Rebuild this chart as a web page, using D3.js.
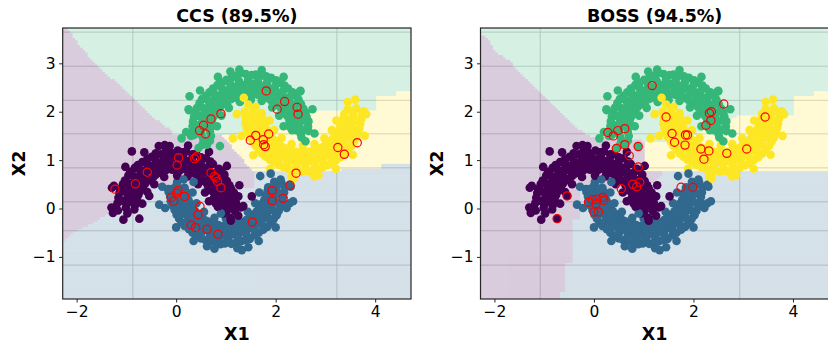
<!DOCTYPE html>
<html><head><meta charset="utf-8">
<script src="https://cdn.jsdelivr.net/npm/d3@7"></script>
<style>body{margin:0;background:#fff}svg{display:block}text{font-family:"DejaVu Sans",sans-serif}</style>
</head><body><svg id="c" width="828" height="343"></svg>
<script>
// ---------------- data ----------------
const purple=[[1.00,-0.09],[0.84,0.03],[1.02,-0.04],[1.17,0.05],[0.80,0.10],[0.97,0.06],[1.20,0.13],[0.83,0.12],[1.01,0.20],[1.15,0.18],[0.76,0.22],[0.95,0.27],[1.16,0.33],[0.78,0.30],[0.96,0.33],[1.10,0.42],[0.72,0.36],[0.92,0.41],[1.07,0.48],[0.70,0.42],[0.87,0.52],[1.02,0.57],[0.64,0.47],[0.83,0.56],[0.97,0.70],[0.62,0.52],[0.79,0.63],[0.91,0.78],[0.58,0.56],[0.70,0.73],[0.86,0.82],[0.52,0.61],[0.66,0.76],[0.74,0.92],[0.45,0.68],[0.57,0.84],[0.69,0.97],[0.40,0.70],[0.51,0.86],[0.60,1.04],[0.33,0.74],[0.42,0.92],[0.50,1.06],[0.28,0.78],[0.35,0.93],[0.40,1.13],[0.21,0.80],[0.25,0.98],[0.33,1.12],[0.13,0.82],[0.18,0.99],[0.20,1.18],[0.07,0.78],[0.08,1.02],[0.12,1.16],[0.00,0.83],[-0.02,0.98],[0.03,1.20],[-0.08,0.80],[-0.09,1.03],[-0.10,1.15],[-0.14,0.84],[-0.17,0.97],[-0.21,1.19],[-0.21,0.79],[-0.26,0.98],[-0.30,1.12],[-0.28,0.77],[-0.34,0.94],[-0.41,1.14],[-0.34,0.74],[-0.43,0.90],[-0.49,1.07],[-0.41,0.70],[-0.50,0.88],[-0.58,1.02],[-0.46,0.65],[-0.58,0.83],[-0.68,0.96],[-0.52,0.61],[-0.63,0.78],[-0.77,0.90],[-0.57,0.58],[-0.72,0.71],[-0.83,0.84],[-0.62,0.52],[-0.78,0.63],[-0.92,0.76],[-0.66,0.47],[-0.83,0.58],[-0.96,0.68],[-0.71,0.41],[-0.86,0.52],[-1.03,0.58],[-0.74,0.34],[-0.92,0.42],[-1.07,0.50],[-0.76,0.28],[-0.95,0.34],[-1.12,0.40],[-0.79,0.21],[-0.97,0.25],[-1.14,0.32],[-0.82,0.14],[-0.99,0.17],[-1.16,0.22],[-0.83,0.06],[-1.00,0.09],[-1.18,0.11],[-0.84,-0.02],[-1.01,0.01],[-1.17,-0.04],[-0.98,-0.10],
[1.30,0.02],[0.66,0.15],[1.27,0.48],[0.58,0.33],[1.02,0.88],[0.44,0.50],[0.66,1.17],[0.23,0.66],[0.24,1.30],[0.02,0.68],[-0.23,1.31],[-0.24,0.65],[-0.64,1.16],[-0.44,0.50],[-1.02,0.86],[-0.58,0.34],[-1.25,0.47],[-0.68,0.10],[-1.30,0.02],
[0.91,0.06],[1.09,0.07],[0.89,0.21],[1.06,0.26],[0.84,0.37],[1.01,0.44],[0.77,0.50],[0.92,0.60],[0.67,0.63],[0.81,0.75],[0.55,0.74],[0.66,0.88],[0.42,0.83],[0.50,0.98],[0.27,0.89],[0.33,1.06],[0.12,0.92],[0.14,1.10],[-0.04,0.93],[-0.05,1.11],[-0.20,0.90],[-0.24,1.08],[-0.35,0.86],[-0.42,1.03],[-0.49,0.79],[-0.59,0.94],[-0.62,0.69],[-0.74,0.82],[-0.72,0.57],[-0.87,0.68],[-0.81,0.44],[-0.97,0.52],[-0.87,0.29],[-1.04,0.35],[-0.90,0.14],[-1.08,0.16],
[-1.06,-0.23],[-1.27,-0.09],[-0.89,1.18],[-0.74,-0.21],[-0.54,0.26],[1.09,-0.19],[1.52,0.25],[-0.35,1.29],[-0.13,1.29],[-1.29,0.43],[1.25,0.25],[1.18,-0.05],[0.95,-0.10],[1.10,-0.25],[1.25,-0.15],[0.85,0.05],[1.35,0.05]];

const blue=[[0.02,0.55],[0.17,0.43],[0.00,0.47],[-0.16,0.40],[0.19,0.36],[0.03,0.37],[-0.15,0.34],[0.20,0.30],[0.01,0.28],[-0.12,0.25],[0.22,0.24],[0.06,0.20],[-0.11,0.15],[0.25,0.17],[0.07,0.12],[-0.07,0.06],[0.27,0.12],[0.12,0.04],[-0.03,-0.03],[0.31,0.05],[0.14,-0.04],[0.01,-0.13],[0.34,0.00],[0.19,-0.11],[0.06,-0.21],[0.38,-0.06],[0.24,-0.17],[0.11,-0.29],[0.43,-0.11],[0.30,-0.25],[0.17,-0.36],[0.47,-0.16],[0.36,-0.31],[0.26,-0.43],[0.53,-0.20],[0.43,-0.36],[0.33,-0.50],[0.59,-0.25],[0.50,-0.42],[0.41,-0.56],[0.64,-0.27],[0.57,-0.44],[0.50,-0.62],[0.71,-0.30],[0.66,-0.47],[0.60,-0.66],[0.78,-0.31],[0.74,-0.52],[0.69,-0.68],[0.85,-0.34],[0.82,-0.55],[0.79,-0.70],[0.93,-0.36],[0.91,-0.53],[0.89,-0.74],[1.00,-0.37],[1.01,-0.57],[0.98,-0.72],[1.08,-0.35],[1.09,-0.54],[1.11,-0.73],[1.15,-0.36],[1.17,-0.53],[1.20,-0.71],[1.22,-0.32],[1.26,-0.51],[1.30,-0.68],[1.28,-0.30],[1.34,-0.48],[1.39,-0.65],[1.36,-0.28],[1.42,-0.45],[1.48,-0.63],[1.41,-0.24],[1.50,-0.40],[1.58,-0.55],[1.46,-0.21],[1.58,-0.36],[1.66,-0.50],[1.52,-0.16],[1.64,-0.30],[1.75,-0.44],[1.57,-0.12],[1.70,-0.26],[1.83,-0.38],[1.62,-0.06],[1.77,-0.19],[1.90,-0.30],[1.67,-0.01],[1.81,-0.12],[1.96,-0.22],[1.70,0.05],[1.86,-0.05],[2.02,-0.14],[1.74,0.11],[1.91,0.03],[2.06,-0.05],[1.77,0.17],[1.93,0.11],[2.10,0.04],[1.80,0.23],[1.96,0.19],[2.13,0.14],[1.82,0.30],[1.98,0.27],[2.15,0.24],[1.84,0.37],[2.00,0.36],[2.17,0.33],[1.85,0.44],[2.01,0.45],[2.18,0.43],[1.97,0.55],[2.12,0.52],
[-0.28,0.45],[0.33,0.33],[-0.22,0.01],[0.41,0.11],[0.00,-0.39],[0.56,-0.07],[0.35,-0.67],[0.77,-0.19],[0.77,-0.83],[1.00,-0.21],[1.23,-0.82],[1.23,-0.19],[1.66,-0.67],[1.44,-0.07],[2.00,-0.39],[1.59,0.11],[2.22,0.01],[1.67,0.33],[2.30,0.45],
[0.09,0.41],[-0.09,0.40],[0.11,0.25],[-0.06,0.21],[0.16,0.10],[-0.01,0.03],[0.23,-0.04],[0.08,-0.14],[0.33,-0.17],[0.20,-0.29],[0.45,-0.27],[0.34,-0.41],[0.58,-0.36],[0.50,-0.52],[0.73,-0.42],[0.67,-0.59],[0.88,-0.45],[0.86,-0.63],[1.04,-0.46],[1.05,-0.64],[1.20,-0.44],[1.24,-0.61],[1.35,-0.39],[1.42,-0.56],[1.49,-0.32],[1.59,-0.47],[1.62,-0.22],[1.74,-0.35],[1.72,-0.10],[1.87,-0.21],[1.81,0.03],[1.97,-0.05],[1.87,0.18],[2.04,0.12],[1.90,0.33],[2.08,0.31],
[1.32,-0.86],[0.62,-0.78],[-0.34,0.08],[2.28,0.49],[2.28,0.11],[2.35,0.15],[1.69,0.67],[1.90,0.72],[2.10,0.60],[0.35,0.55],[0.15,0.60],[0.90,-0.10],[1.45,-0.80],[0.10,-0.05]];

const green=[[2.52,1.47],[2.33,1.62],[2.50,1.55],[2.66,1.60],[2.30,1.67],[2.48,1.66],[2.65,1.70],[2.31,1.72],[2.47,1.76],[2.66,1.80],[2.28,1.80],[2.45,1.85],[2.62,1.90],[2.27,1.86],[2.43,1.93],[2.60,1.98],[2.23,1.92],[2.39,2.01],[2.56,2.06],[2.20,1.98],[2.36,2.08],[2.51,2.16],[2.14,2.05],[2.31,2.16],[2.46,2.25],[2.10,2.09],[2.26,2.22],[2.40,2.33],[2.06,2.13],[2.21,2.28],[2.34,2.40],[2.00,2.18],[2.14,2.33],[2.25,2.48],[1.94,2.22],[2.06,2.38],[2.18,2.54],[1.89,2.25],[2.00,2.43],[2.10,2.60],[1.82,2.29],[1.92,2.47],[2.01,2.65],[1.77,2.31],[1.84,2.50],[1.91,2.70],[1.70,2.33],[1.76,2.53],[1.81,2.73],[1.64,2.35],[1.67,2.56],[1.70,2.74],[1.56,2.36],[1.59,2.57],[1.60,2.77],[1.50,2.37],[1.49,2.58],[1.52,2.76],[1.43,2.38],[1.41,2.57],[1.40,2.78],[1.36,2.36],[1.33,2.55],[1.30,2.80],[1.29,2.33],[1.24,2.54],[1.20,2.74],[1.23,2.32],[1.16,2.51],[1.11,2.70],[1.17,2.29],[1.08,2.47],[1.01,2.66],[1.10,2.26],[1.00,2.44],[0.92,2.60],[1.04,2.23],[0.93,2.38],[0.83,2.55],[0.99,2.19],[0.86,2.33],[0.74,2.48],[0.93,2.15],[0.79,2.28],[0.67,2.40],[0.88,2.10],[0.73,2.22],[0.60,2.33],[0.84,2.05],[0.68,2.16],[0.52,2.26],[0.80,1.99],[0.64,2.08],[0.47,2.18],[0.77,1.93],[0.59,2.01],[0.42,2.08],[0.73,1.86],[0.56,1.93],[0.39,1.99],[0.71,1.80],[0.53,1.84],[0.36,1.90],[0.70,1.73],[0.52,1.76],[0.34,1.80],[0.68,1.66],[0.51,1.67],[0.33,1.70],[0.68,1.58],[0.50,1.59],[0.34,1.60],[0.70,1.50],[0.52,1.50],[0.36,1.52],[0.55,1.42],[0.68,1.40],
[2.78,1.55],[2.16,1.70],[2.74,2.05],[2.07,1.92],[2.50,2.43],[1.93,2.09],[2.16,2.72],[1.72,2.22],[1.72,2.86],[1.50,2.24],[1.27,2.87],[1.28,2.20],[0.84,2.72],[1.06,2.08],[0.48,2.44],[0.91,1.92],[0.26,2.03],[0.82,1.70],[0.20,1.58],
[2.41,1.62],[2.59,1.63],[2.39,1.78],[2.56,1.82],[2.34,1.93],[2.51,2.00],[2.27,2.07],[2.42,2.16],[2.17,2.20],[2.30,2.32],[2.05,2.30],[2.16,2.45],[1.92,2.39],[2.00,2.55],[1.77,2.45],[1.83,2.62],[1.62,2.48],[1.64,2.66],[1.46,2.49],[1.45,2.67],[1.30,2.47],[1.26,2.64],[1.15,2.42],[1.08,2.59],[1.01,2.35],[0.91,2.50],[0.88,2.25],[0.76,2.38],[0.78,2.13],[0.64,2.24],[0.69,2.00],[0.53,2.08],[0.63,1.85],[0.46,1.91],[0.60,1.70],[0.42,1.72],
[0.27,2.32],[0.25,2.05],[0.11,1.45],[0.53,1.32],[0.88,1.29],[2.60,1.39],[2.49,2.42],[1.09,2.83],[0.45,1.25],[0.62,1.32],[0.30,1.50]];

const yellow=[[1.55,2.05],[1.72,1.97],[1.55,1.93],[1.38,2.00],[1.73,1.88],[1.56,1.85],[1.40,1.88],[1.74,1.80],[1.57,1.77],[1.39,1.76],[1.77,1.74],[1.59,1.69],[1.42,1.65],[1.79,1.67],[1.62,1.61],[1.45,1.56],[1.82,1.61],[1.66,1.53],[1.49,1.47],[1.86,1.55],[1.70,1.46],[1.55,1.38],[1.89,1.49],[1.74,1.39],[1.60,1.29],[1.94,1.44],[1.80,1.32],[1.66,1.22],[1.98,1.40],[1.85,1.25],[1.72,1.14],[2.03,1.35],[1.92,1.20],[1.80,1.07],[2.08,1.31],[1.99,1.14],[1.88,1.01],[2.14,1.27],[2.05,1.10],[1.97,0.96],[2.20,1.24],[2.13,1.06],[2.06,0.90],[2.27,1.21],[2.21,1.03],[2.15,0.86],[2.33,1.19],[2.29,1.00],[2.25,0.82],[2.41,1.17],[2.38,0.97],[2.34,0.79],[2.48,1.16],[2.46,0.96],[2.44,0.78],[2.55,1.15],[2.56,0.95],[2.53,0.76],[2.62,1.15],[2.64,0.97],[2.66,0.77],[2.69,1.17],[2.72,0.98],[2.75,0.79],[2.76,1.19],[2.80,0.99],[2.85,0.82],[2.82,1.21],[2.88,1.02],[2.94,0.85],[2.89,1.24],[2.96,1.05],[3.03,0.89],[2.95,1.27],[3.04,1.10],[3.12,0.94],[3.01,1.32],[3.12,1.15],[3.21,1.00],[3.06,1.36],[3.18,1.20],[3.30,1.06],[3.12,1.41],[3.25,1.26],[3.38,1.13],[3.16,1.46],[3.31,1.33],[3.45,1.21],[3.21,1.51],[3.37,1.40],[3.52,1.29],[3.24,1.57],[3.41,1.47],[3.57,1.38],[3.28,1.63],[3.45,1.54],[3.62,1.47],[3.31,1.69],[3.49,1.62],[3.66,1.57],[3.33,1.75],[3.51,1.70],[3.68,1.66],[3.36,1.82],[3.53,1.78],[3.70,1.75],[3.37,1.88],[3.55,1.87],[3.72,1.85],[3.38,1.95],[3.56,1.96],[3.73,1.94],[3.45,2.05],[3.62,2.07],
[1.22,1.95],[1.88,1.82],[1.31,1.50],[1.97,1.62],[1.55,1.10],[2.12,1.46],[1.89,0.82],[2.32,1.33],[2.32,0.66],[2.55,1.30],[2.78,0.66],[2.78,1.33],[3.21,0.82],[2.98,1.45],[3.55,1.11],[3.13,1.62],[3.79,1.50],[3.22,1.82],[3.82,1.95],
[1.64,1.91],[1.46,1.90],[1.66,1.75],[1.49,1.71],[1.71,1.60],[1.54,1.53],[1.78,1.46],[1.63,1.36],[1.88,1.33],[1.75,1.21],[2.00,1.23],[1.89,1.09],[2.13,1.14],[2.05,0.98],[2.28,1.08],[2.22,0.91],[2.43,1.05],[2.41,0.87],[2.59,1.04],[2.60,0.86],[2.75,1.06],[2.79,0.89],[2.90,1.11],[2.97,0.94],[3.04,1.18],[3.14,1.03],[3.17,1.28],[3.29,1.15],[3.27,1.40],[3.41,1.29],[3.36,1.53],[3.52,1.45],[3.42,1.68],[3.59,1.62],[3.45,1.83],[3.63,1.81],
[3.77,2.01],[3.60,2.25],[3.45,2.20],[1.36,2.29],[1.14,1.45],[2.86,0.69],[2.37,0.62],[1.45,2.15],[1.60,2.10]];

// decision regions (polygon vertices, data units)
const ccsPurple=[[-3,4.5],[-2.2,4.5],[-2.2,3.75],[-1.87,3.28],[-1.55,2.93],[-0.88,2.31],[-0.58,1.98],[-0.12,1.63],[-0.05,1.52],[0.92,1.52],[1.55,0.76],[1.55,0.45],[-0.39,0.45],[-0.99,0.12],[-1.47,-0.17],[-1.77,-0.34],[-2.07,-0.50],[-2.29,-0.68],[-3,-0.68]];
const ccsYellow=[[0.92,1.52],[1.95,1.58],[2.86,2.04],[4.03,2.04],[4.03,2.35],[4.44,2.35],[4.44,2.45],[5.5,2.45],[5.5,0.94],[4.1,0.94],[4.1,0.83],[3.3,0.83],[3.3,0.76],[1.55,0.76]];
const ccsGreen=[[-2.2,4.5],[-2.2,3.75],[-1.87,3.28],[-1.55,2.93],[-0.88,2.31],[-0.58,1.98],[-0.12,1.63],[-0.05,1.52],[0.92,1.52],[1.95,1.58],[2.86,2.04],[4.03,2.04],[4.03,2.35],[4.44,2.35],[4.44,2.45],[5.5,2.45],[5.5,4.5]];
const bossPurple=[[-3,3.56],[-2.17,3.56],[-1.97,3.25],[-1.69,3.05],[-1.35,2.67],[-1.08,2.39],[-0.85,2.15],[-0.62,1.94],[-0.35,1.67],[-0.08,1.50],[0.30,1.45],[1.03,1.40],[1.03,0.78],[1.38,0.78],[1.38,0.73],[1.19,0.55],[0.99,0.36],[-0.28,0.36],[-0.28,-0.20],[-0.45,-0.20],[-0.45,-1.10],[-0.58,-1.10],[-0.58,-1.70],[-0.70,-1.70],[-0.70,-3],[-3,-3]];
const bossYellow=[[1.03,1.40],[1.70,1.40],[2.95,1.93],[4.03,1.93],[4.03,2.31],[4.40,2.31],[4.40,2.44],[5.5,2.44],[5.5,0.76],[1.03,0.76]];
const bossGreen=[[-3,4.5],[-3,3.56],[-2.17,3.56],[-1.97,3.25],[-1.69,3.05],[-1.35,2.67],[-1.08,2.39],[-0.85,2.15],[-0.62,1.94],[-0.35,1.67],[-0.08,1.50],[0.30,1.45],[1.03,1.40],[1.70,1.40],[2.95,1.93],[4.03,1.93],[4.03,2.31],[4.40,2.31],[4.40,2.44],[5.5,2.44],[5.5,4.5]];

// misclassified points
const ccsMiss=[[1.81,2.43],[2.18,2.21],[2.03,2.05],[2.43,2.09],[2.45,1.95],[0.90,1.96],[0.70,1.85],[0.55,1.72],[0.47,1.61],[0.59,1.54],[1.49,1.41],[1.60,1.51],[1.75,1.42],[1.76,1.32],[1.79,1.28],[1.86,1.54],[3.25,1.26],[3.38,1.12],[3.64,1.36],[2.41,0.73],[2.29,0.48],[1.93,0.37],[1.93,0.16],[2.15,0.21],[1.53,-0.28],[0.84,-0.53],[0.62,-0.43],[0.39,-0.39],[0.30,-0.34],[0.44,-0.13],[0.48,0.04],[0.17,0.25],[0.04,0.37],[0.01,0.32],[-0.10,0.23],[-0.05,0.15],[0.05,1.05],[0.02,0.90],[0.37,1.03],[0.41,1.07],[0.70,0.74],[0.77,0.66],[0.80,0.63],[0.83,0.56],[0.90,0.43],[-0.58,0.75],[-0.82,0.51],[-1.23,0.40]];
const bossMiss=[[1.17,2.54],[2.61,2.16],[2.32,1.97],[2.36,2.00],[2.35,1.82],[2.25,1.72],[1.45,1.89],[1.57,1.55],[1.62,1.37],[1.84,1.52],[1.88,1.52],[1.83,1.31],[2.15,1.23],[2.31,1.19],[2.21,1.02],[2.67,1.14],[3.07,1.23],[3.44,1.89],[1.75,0.44],[1.99,0.44],[0.28,1.57],[0.39,1.50],[0.48,1.61],[0.62,1.65],[0.62,1.32],[0.45,1.24],[0.89,1.28],[0.71,1.09],[0.89,0.86],[0.78,0.50],[0.86,0.45],[0.92,0.54],[0.55,0.41],[-0.54,0.26],[-0.74,-0.21],[-0.11,0.13],[-0.03,0.18],[0.06,0.19],[0.18,0.23],[0.20,0.17],[0.04,0.10],[0.00,-0.07],[0.09,-0.07]];

// grid lines and ticks
const ccsGridX=[-0.87,3.23];
const bossGridX=[-1.08,2.93];
const gridY=[3.645,2.94,2.235,1.543,0.84,0.138,-0.46,-1.17];
const xTicks=[-2,0,2,4];
const yTicks=[-1,0,1,2,3];

// ---------------- drawing ----------------
const svg=d3.select("#c");
const xDomain=[-2.28,4.72], yDomain=[-1.87,3.73];
const axW=348.3, axTop=28, axBot=299;
const colors=["#440154","#31688e","#35b779","#fde725"];
const h=0.05;
const panels=[
 {left:62.7,title:"CCS (89.5%)",gridX:ccsGridX,regions:[[3,ccsYellow],[0,ccsPurple],[2,ccsGreen]],miss:ccsMiss},
 {left:480.5,title:"BOSS (94.5%)",gridX:bossGridX,regions:[[3,bossYellow],[0,bossPurple],[2,bossGreen]],miss:bossMiss}
];
const classes=[purple,blue,green,yellow];
const pts=[];
const maxN=d3.max(classes,c=>c.length);
for(let i=0;i<maxN;i++)for(let c=0;c<4;c++)if(i<classes[c].length)pts.push({x:classes[c][i][0],y:classes[c][i][1],c});

function classify(px,py,regions){
  for(const [c,poly] of regions){ if(d3.polygonContains(poly,[px,py])) return c; }
  return 1;
}
const defs=svg.append("defs");
const fmt=d3.format("d");
panels.forEach((p,k)=>{
  const x=d3.scaleLinear().domain(xDomain).range([p.left,p.left+axW]);
  const y=d3.scaleLinear().domain(yDomain).range([axBot,axTop]);
  const cid="clip"+k;
  defs.append("clipPath").attr("id",cid).append("rect").attr("x",p.left).attr("y",axTop).attr("width",axW).attr("height",axBot-axTop);
  const g=svg.append("g");
  const plot=g.append("g").attr("clip-path",`url(#${cid})`);
  // grid
  plot.selectAll("line.gx").data(p.gridX).join("line").attr("class","gx")
    .attr("x1",d=>x(d)).attr("x2",d=>x(d)).attr("y1",axTop).attr("y2",axBot)
    .attr("stroke","#c6c6c6").attr("stroke-width",0.8);
  plot.selectAll("line.gy").data(gridY).join("line").attr("class","gy")
    .attr("y1",d=>y(d)).attr("y2",d=>y(d)).attr("x1",p.left).attr("x2",p.left+axW)
    .attr("stroke","#c6c6c6").attr("stroke-width",0.8);
  // regions
  const reg=plot.append("g").attr("opacity",0.2);
  const nx=Math.ceil((xDomain[1]-xDomain[0])/h), ny=Math.ceil((yDomain[1]-yDomain[0])/h);
  const runs=[];
  for(let j=0;j<ny;j++){
    const yc=yDomain[0]+(j+0.5)*h;
    let start=0, cur=null;
    for(let i=0;i<=nx;i++){
      let cls=null;
      if(i<nx) cls=classify(xDomain[0]+(i+0.5)*h,yc,p.regions);
      if(cls!==cur){
        if(cur!==null) runs.push({i0:start,i1:i,j,c:cur});
        start=i; cur=cls;
      }
    }
  }
  reg.selectAll("rect").data(runs).join("rect")
    .attr("x",d=>x(xDomain[0]+d.i0*h))
    .attr("width",d=>x(xDomain[0]+d.i1*h)-x(xDomain[0]+d.i0*h)+0.6)
    .attr("y",d=>y(yDomain[0]+(d.j+1)*h)-0.3)
    .attr("height",d=>y(yDomain[0]+d.j*h)-y(yDomain[0]+(d.j+1)*h)+0.6)
    .attr("fill",d=>colors[d.c]);
  // points
  plot.selectAll("circle.pt").data(pts).join("circle").attr("class","pt")
    .attr("cx",d=>x(d.x)).attr("cy",d=>y(d.y)).attr("r",4.3).attr("fill",d=>colors[d.c]);
  plot.selectAll("circle.ms").data(p.miss).join("circle").attr("class","ms")
    .attr("cx",d=>x(d[0])).attr("cy",d=>y(d[1])).attr("r",4.1)
    .attr("fill","none").attr("stroke","#ff0000").attr("stroke-width",1.2);
  // spines
  g.append("rect").attr("x",p.left).attr("y",axTop).attr("width",axW).attr("height",axBot-axTop)
    .attr("fill","none").attr("stroke","#262626").attr("stroke-width",1.2);
  // axes
  const ax=g.append("g").attr("transform",`translate(0,${axBot})`)
    .call(d3.axisBottom(x).tickValues(xTicks).tickFormat(fmt).tickSize(3.5).tickPadding(3.5).tickSizeOuter(0));
  const ay=g.append("g").attr("transform",`translate(${p.left},0)`)
    .call(d3.axisLeft(y).tickValues(yTicks).tickFormat(fmt).tickSize(3.5).tickPadding(3.5).tickSizeOuter(0));
  [ax,ay].forEach(a=>{
    a.select(".domain").remove();
    a.attr("font-family","DejaVu Sans, sans-serif").attr("font-size",15.5);
    a.selectAll(".tick line").attr("stroke","#262626").attr("stroke-width",1);
    a.selectAll(".tick text").attr("fill","#000");
  });
  // labels
  const cx=p.left+axW/2;
  g.append("text").attr("x",cx).attr("y",22).attr("text-anchor","middle")
    .attr("font-weight","bold").attr("font-size",17.5).text(p.title);
  g.append("text").attr("x",cx).attr("y",340).attr("text-anchor","middle")
    .attr("font-weight","bold").attr("font-size",17.5).text("X1");
  g.append("text").attr("transform",`translate(${p.left-38},${(axTop+axBot)/2}) rotate(-90)`)
    .attr("text-anchor","middle").attr("font-weight","bold").attr("font-size",17.5).text("X2");
});
</script></body></html>
